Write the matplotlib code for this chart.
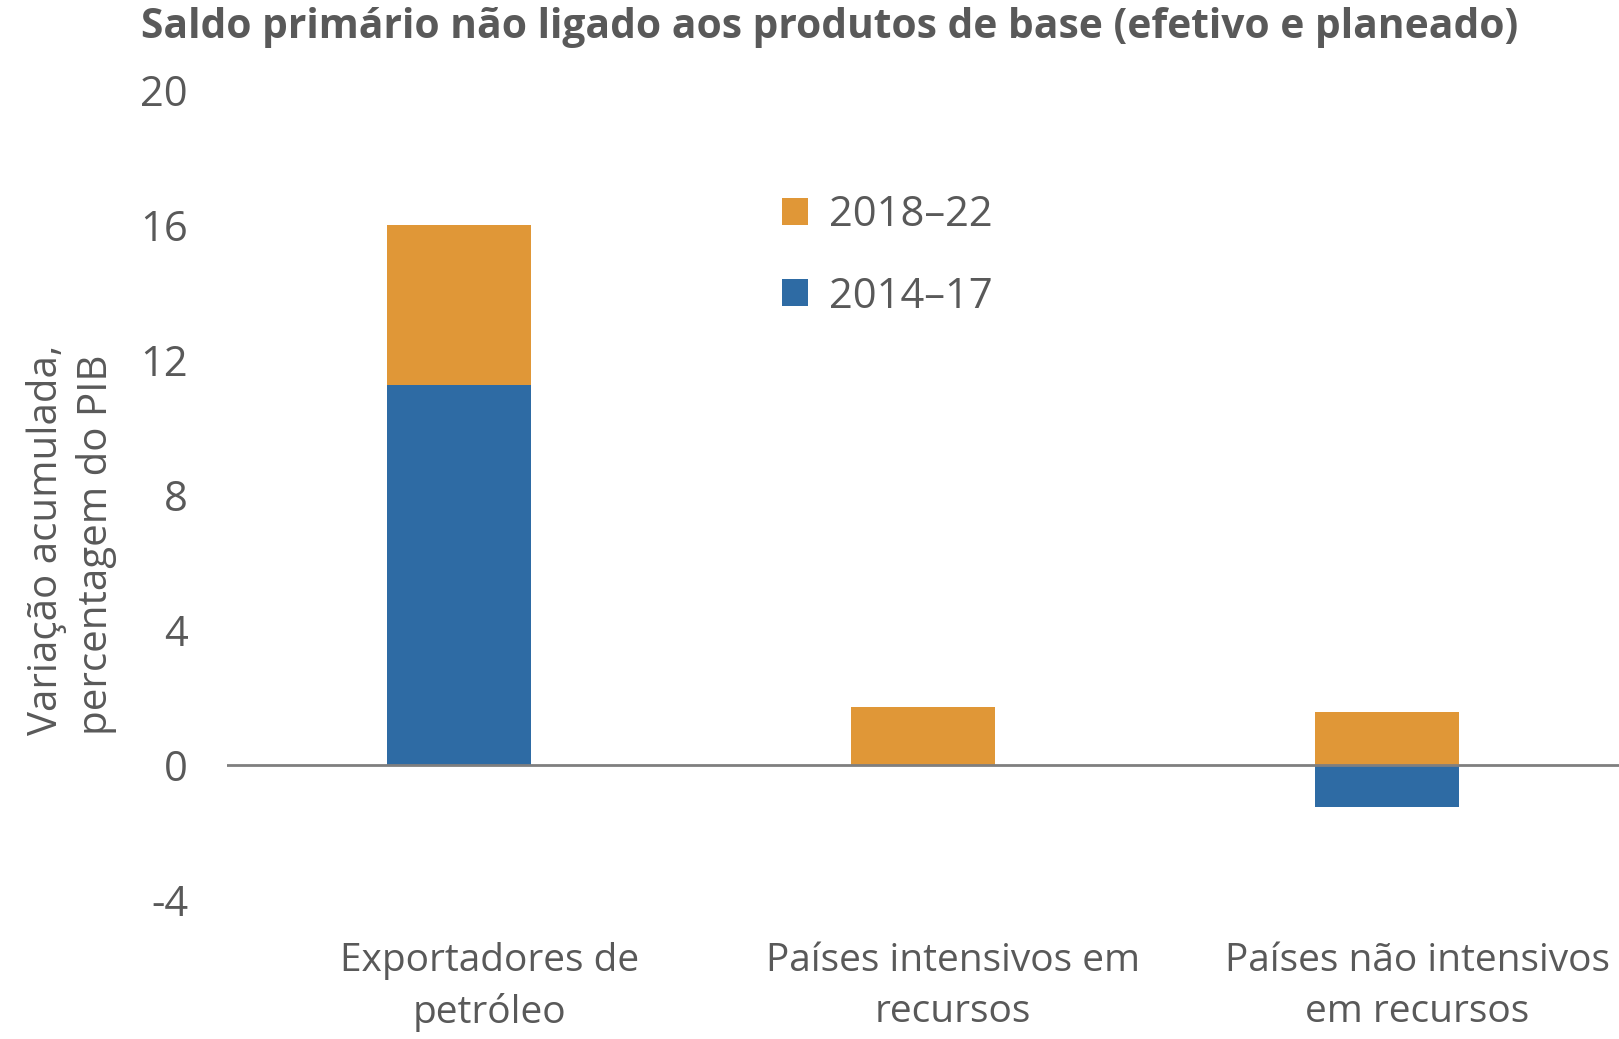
import matplotlib.pyplot as plt
import numpy as np

plt.rcParams['font.family'] = ['Open Sans', 'DejaVu Sans']

categories = ['Exportadores de\npetróleo', 'Países intensivos em\nrecursos', 'Países não intensivos\nem recursos']
s2014_17 = [11.25, 0.0, -1.25]
s2018_22 = [4.75, 1.73, 1.56]
yticks = [-4, 0, 4, 8, 12, 16, 20]

blue = '#2E6BA4'
orange = '#E09737'
grey = '#595959'

fig = plt.figure(figsize=(16.19, 10.39), dpi=100)
ax = fig.add_axes([227 / 1619, 1 - 900 / 1039, 1 - 227 / 1619, (900 - 90) / 1039])

x = np.arange(len(categories))
w = 0.31
ax.bar(x, s2014_17, w, color=blue, label='2014–17')
bottoms = [max(v, 0) for v in s2014_17]
ax.bar(x, s2018_22, w, bottom=bottoms, color=orange, label='2018–22')

ax.axhline(0, color='#7F7F7F', lw=2)
ax.set_xlim(-0.5, 2.5)
ax.set_ylim(-4, 20)
ax.set_yticks(yticks)
ax.set_yticklabels([str(t) for t in yticks])
ax.set_xticks(x + 0.065)
ax.set_xticklabels(categories, linespacing=1.45)
ax.tick_params(axis='y', length=0, labelsize=30, labelcolor=grey, pad=28)
ax.tick_params(axis='x', length=0, labelsize=28, labelcolor=grey, pad=30)
for s in ax.spines.values():
    s.set_visible(False)

h, l = ax.get_legend_handles_labels()
ax.legend(h[::-1], l[::-1], loc='upper left', bbox_to_anchor=(0.372, 0.918), frameon=False,
          fontsize=30, labelcolor=grey, handlelength=0.62, handleheight=0.62,
          handletextpad=0.5, labelspacing=0.95)

fig.text(0.016, 0.48, 'Variação acumulada,\npercentagem do PIB', rotation=90,
         ha='left', va='center', fontsize=29, color=grey, linespacing=1.3)
fig.text(141 / 1619, 1 - 28 / 1039, 'Saldo primário não ligado aos produtos de base (efetivo e planeado)',
         ha='left', va='center', fontsize=29.3, fontweight='bold', color=grey)

fig.savefig('out.png', dpi=100)
